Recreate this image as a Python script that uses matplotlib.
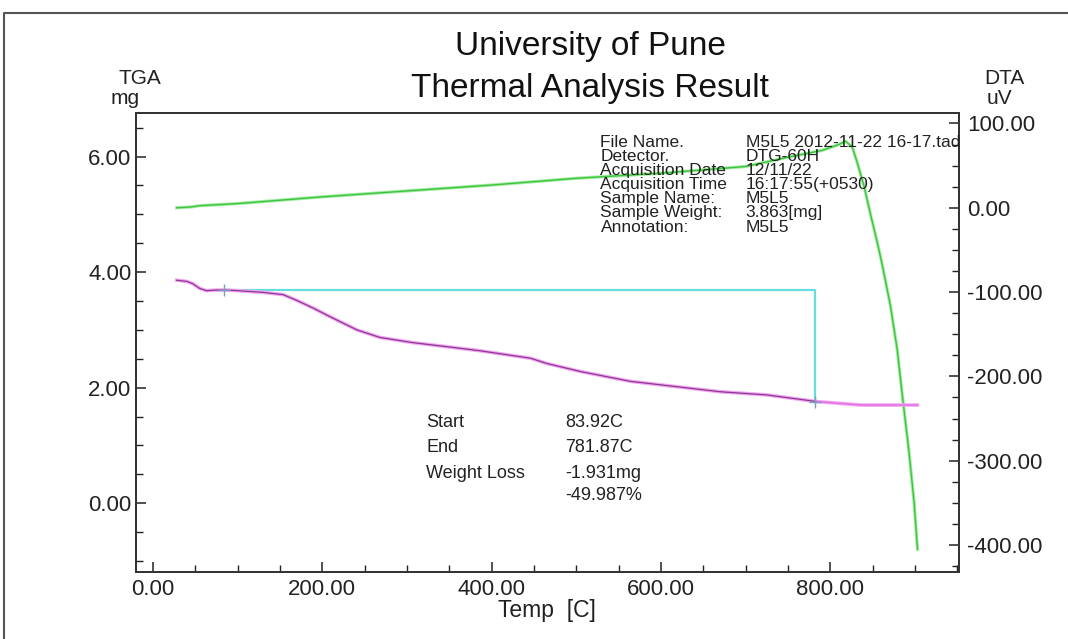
import matplotlib
matplotlib.use("Agg")
import matplotlib.pyplot as plt
from matplotlib.ticker import MultipleLocator, FormatStrFormatter
from matplotlib.lines import Line2D

plt.rcParams['font.family'] = ['Liberation Sans', 'DejaVu Sans']

# ---- data ----
tga_temp = [28, 40, 47, 51, 55, 63, 75, 85, 100, 130, 154, 170, 189, 209, 241, 268,
            307, 347, 386, 446, 465, 505, 564, 623, 670, 725, 784, 836, 870, 903]
tga_mg = [3.86, 3.84, 3.80, 3.76, 3.72, 3.68, 3.69, 3.69, 3.68, 3.65, 3.61, 3.51, 3.38,
          3.23, 3.00, 2.87, 2.78, 2.71, 2.64, 2.51, 2.42, 2.28, 2.11, 2.01, 1.93, 1.875,
          1.76, 1.70, 1.70, 1.70]

dta_temp = [28, 45, 55, 100, 150, 200, 300, 400, 500, 600, 650, 700, 750, 790, 810, 818,
            826, 832, 840, 848, 855, 861, 871, 879, 885, 893, 899, 903]
dta_uv = [0, 1, 2.5, 5, 9, 13, 20, 27, 35, 41, 45, 49, 60, 68, 75, 79,
          72, 53, 25, -10, -39, -66, -116, -168, -222, -290, -350, -405]

step_start_T = 83.92
step_end_T = 781.87
step_start_mg = 3.69
step_end_mg = 1.76

x_ticks = [0, 200, 400, 600, 800]
tga_ticks = [0, 2, 4, 6]
dta_ticks = [100, 0, -100, -200, -300, -400]

info_labels = ["File Name.", "Detector.", "Acquisition Date", "Acquisition Time",
               "Sample Name:", "Sample Weight:", "Annotation:"]
info_values = ["M5L5 2012-11-22 16-17.tad", "DTG-60H", "12/11/22", "16:17:55(+0530)",
               "M5L5", "3.863[mg]", "M5L5"]
res_labels = ["Start", "End", "Weight Loss", ""]
res_values = ["83.92C", "781.87C", "-1.931mg", "-49.987%"]

W, H = 1068, 639
fig = plt.figure(figsize=(W / 100, H / 100), dpi=100)

def px(x, y):
    return x / W, 1 - y / H

# outer frame (top and left visible)
fig.add_artist(Line2D([4 / W, 4 / W, 1.0], [0.0, 1 - 13 / H, 1 - 13 / H],
                      transform=fig.transFigure, color='#555555', lw=1.5))

left, right, top, bottom = 135.7, 959, 112.7, 572
ax = fig.add_axes([left / W, 1 - bottom / H, (right - left) / W, (bottom - top) / H])
ax2 = ax.twinx()

ax.set_xlim(-20.4, 952)
ax.set_ylim(-1.19, 6.76)
ax2.set_ylim(-432, 112.8)

# DTA
ax2.plot(dta_temp, dta_uv, color='#a8eca8', lw=2.4, zorder=2)
ax2.plot(dta_temp, dta_uv, color='#3cc43c', lw=1.0, zorder=3)

# TGA
ax.plot(tga_temp, tga_mg, color='#f4a4f4', lw=2.6, zorder=3)
ax.plot(tga_temp[:-3], tga_mg[:-3], color='#8a3a8e', lw=0.9, zorder=4)
ax.plot(tga_temp[-4:], tga_mg[-4:], color='#e070e0', lw=1.0, zorder=4)

# step analysis lines
ax.plot([step_start_T, step_end_T, step_end_T],
        [step_start_mg, step_start_mg, step_end_mg], color='#66dede', lw=1.6, zorder=2)
ax.plot([step_start_T, step_end_T], [step_start_mg, step_end_mg], ls='none',
        marker='+', ms=9, mew=1.0, color='#7aa0c0', zorder=5)

ax.set_zorder(ax2.get_zorder() + 1)
ax.patch.set_visible(False)

for a in (ax, ax2):
    for s in a.spines.values():
        s.set_color('#333333')
        s.set_linewidth(1.3)

ax.xaxis.set_major_locator(plt.FixedLocator(x_ticks))
ax.xaxis.set_minor_locator(MultipleLocator(50))
ax.yaxis.set_major_locator(plt.FixedLocator(tga_ticks))
ax.yaxis.set_minor_locator(MultipleLocator(0.5))
ax2.yaxis.set_major_locator(plt.FixedLocator(dta_ticks))
ax2.yaxis.set_minor_locator(MultipleLocator(25))
ax.xaxis.set_major_formatter(FormatStrFormatter('%.2f'))
ax.yaxis.set_major_formatter(FormatStrFormatter('%.2f'))
ax2.yaxis.set_major_formatter(FormatStrFormatter('%.2f'))

ax.tick_params(axis='x', which='both', direction='in', top=False, pad=5,
               labelsize=16, colors='#222222')
ax.tick_params(axis='y', which='both', direction='in', right=False, pad=3,
               labelsize=16, colors='#222222')
ax2.tick_params(axis='y', which='both', direction='in', pad=6,
                labelsize=16, colors='#222222')
for a in (ax, ax2):
    a.tick_params(which='major', length=7, width=1.1)
    a.tick_params(which='minor', length=5, width=1.0)

# titles and axis captions
fig.text(*px(590, 46), "University of Pune", ha='center', va='center', fontsize=24, color='#111111')
fig.text(*px(590, 88), "Thermal Analysis Result", ha='center', va='center', fontsize=24, color='#111111')
fig.text(*px(140, 79), "TGA", ha='center', va='center', fontsize=15, color='#222222')
fig.text(*px(140, 98), "mg", ha='right', va='center', fontsize=15, color='#222222')
fig.text(*px(1004, 78), "DTA", ha='center', va='center', fontsize=15, color='#222222')
fig.text(*px(987, 98), "uV", ha='left', va='center', fontsize=15, color='#222222')
fig.text(*px(547, 610), "Temp  [C]", ha='center', va='center', fontsize=16.5, color='#222222')

# file info block (two multi-line columns, tight line spacing as in the reference)
info_center_y = (140.7 + 228.5) / 2
fig.text(*px(600.5, info_center_y), "\n".join(info_labels), ha='left', va='center',
         fontsize=12.5, linespacing=0.93, color='#222222')
fig.text(*px(745.5, info_center_y), "\n".join(info_values), ha='left', va='center',
         fontsize=12.5, linespacing=0.93, color='#222222')

# step result block
res_y = [422.7, 447, 473, 495]
for lab, val, yy in zip(res_labels, res_values, res_y):
    if lab:
        fig.text(*px(426.5, yy), lab, ha='left', va='center', fontsize=13, color='#222222')
    fig.text(*px(565.5, yy), val, ha='left', va='center', fontsize=13, color='#222222')

fig.savefig("out.png", dpi=100)
